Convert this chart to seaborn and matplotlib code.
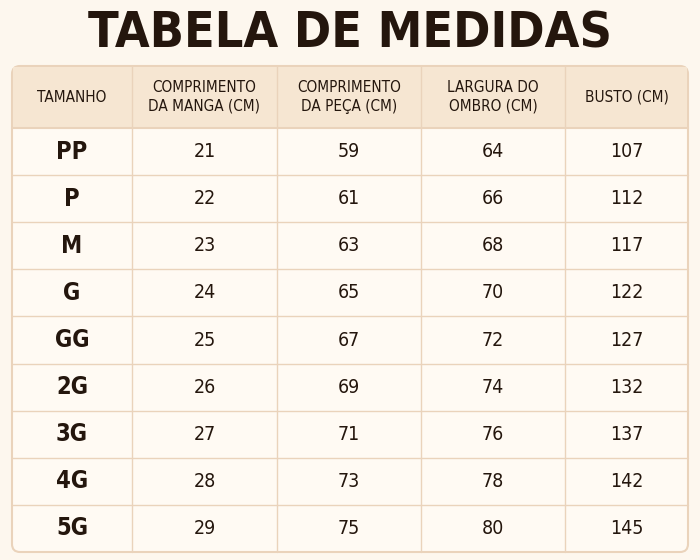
import matplotlib
matplotlib.use("Agg")
import matplotlib.pyplot as plt
import seaborn as sns
from matplotlib.patches import FancyBboxPatch, Rectangle

sns.set_theme(style="white")
plt.rcParams['font.family'] = ['DejaVu Sans']
plt.rcParams['font.stretch'] = 'condensed'

title = "TABELA DE MEDIDAS"
headers = ["TAMANHO", "COMPRIMENTO\nDA MANGA (CM)", "COMPRIMENTO\nDA PEÇA (CM)", "LARGURA DO\nOMBRO (CM)", "BUSTO (CM)"]
sizes = ["PP", "P", "M", "G", "GG", "2G", "3G", "4G", "5G"]
manga = [21, 22, 23, 24, 25, 26, 27, 28, 29]
peca = [59, 61, 63, 65, 67, 69, 71, 73, 75]
ombro = [64, 66, 68, 70, 72, 74, 76, 78, 80]
busto = [107, 112, 117, 122, 127, 132, 137, 142, 145]

bg = "#fdf7ee"
hdr = "#f6e6d2"
line = "#ead3bb"
ink = "#24160d"

fig = plt.figure(figsize=(7, 5.6), dpi=100, facecolor=bg)
ax = fig.add_axes([0, 0, 1, 1])
ax.set_xlim(0, 700); ax.set_ylim(560, 0); ax.axis("off")
ax.set_facecolor(bg)

ax.text(350, 34, title, ha="center", va="center", fontsize=36, fontweight="bold",
        fontstretch="condensed", color=ink)

xs = [12, 132, 277, 421, 565, 688]
top, hbot, bot = 66, 128, 552
ax.add_patch(FancyBboxPatch((xs[0], top), xs[-1]-xs[0], bot-top, boxstyle="round,pad=0,rounding_size=8",
                            fc="#fffaf3", ec=line, lw=1.5, zorder=1))
ax.add_patch(Rectangle((xs[0]+1, top+1), xs[-1]-xs[0]-2, hbot-top-1, fc=hdr, ec="none", zorder=2))
ax.plot([xs[0], xs[-1]], [hbot, hbot], color=line, lw=1.5, zorder=3)
for x in xs[1:-1]:
    ax.plot([x, x], [top, bot], color=line, lw=1, zorder=3)
rh = (bot - hbot) / len(sizes)
for i in range(1, len(sizes)):
    y = hbot + i*rh
    ax.plot([xs[0], xs[-1]], [y, y], color=line, lw=1, zorder=3)

cx = [(xs[i]+xs[i+1])/2 for i in range(5)]
for j, h in enumerate(headers):
    ax.text(cx[j], (top+hbot)/2, h, ha="center", va="center", fontsize=11, color=ink,
            fontstretch="condensed", linespacing=1.3, zorder=4)
cols = [sizes, manga, peca, ombro, busto]
for i in range(len(sizes)):
    y = hbot + (i+0.5)*rh
    for j, col in enumerate(cols):
        if j == 0:
            ax.text(cx[j], y, col[i], ha="center", va="center", fontsize=17, fontweight="bold",
                    fontstretch="condensed", color=ink, zorder=4)
        else:
            ax.text(cx[j], y, str(col[i]), ha="center", va="center", fontsize=14,
                    fontstretch="condensed", color=ink, zorder=4)

fig.savefig("out.png", dpi=100, facecolor=bg)
